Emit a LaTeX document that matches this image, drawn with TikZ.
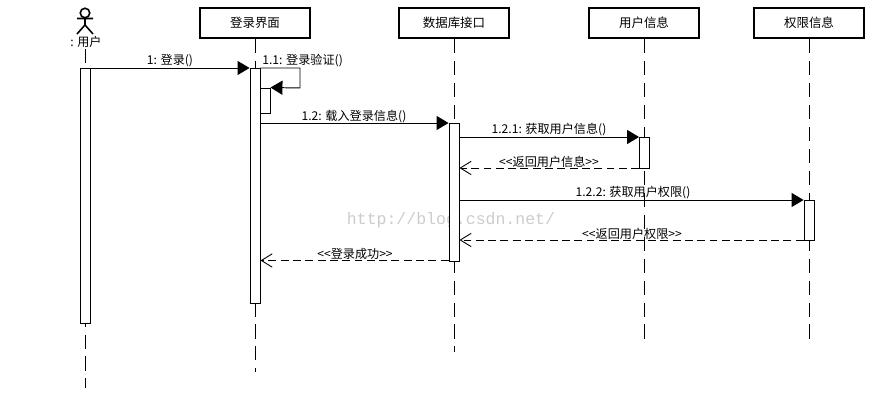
\documentclass[tikz,border=0pt]{standalone}
\usepackage{fontspec}
\setmainfont{Noto Sans CJK SC}
\newfontfamily\markfont{Liberation Mono}
\usetikzlibrary{arrows.meta}
\begin{document}
\begin{tikzpicture}[
        x=0.02cm, y=-0.02cm,
        object/.style={rectangle, draw, line width=1.1pt, minimum width=2.2cm, minimum height=0.6cm, align=center, font=\fontsize{7.1}{8}\selectfont},
        bar/.style={rectangle, draw, line width=0.55pt, fill=white, minimum width=0.2cm, inner sep=0pt},
        lifeline/.style={line width=0.55pt, dash pattern=on 8pt off 4.5pt},
        msg/.style={line width=0.55pt, -{Triangle[length=6.8pt, width=8pt]}},
        reply/.style={line width=0.55pt, dash pattern=on 4.5pt off 2.5pt, -{Straight Barb[length=6.2pt, width=7.6pt, line width=0.5pt]}},
        label/.style={font=\fontsize{6.9}{8}\selectfont, inner sep=0pt}
    ]
        \useasboundingbox (0,0) rectangle (885,418);

        % Watermark
        \node[font=\markfont\fontsize{9.4}{11}\selectfont, text=black!20, inner sep=0pt] (mark) at (451,220) {http://blog.csdn.net/};

        % Objects
        \node[object] (login) at (255,23) {登录界面};
        \node[object] (db) at (454,23) {数据库接口};
        \node[object] (info) at (644,23) {用户信息};
        \node[object] (perm) at (809,23) {权限信息};

        % Actor
        \node[draw, circle, line width=0.9pt, minimum size=0.19cm, inner sep=0pt] (head) at (85,13) {};
        \coordinate (hip) at (85,25);
        \coordinate (armL) at (77,18.5);
        \coordinate (armR) at (93,18.5);
        \coordinate (legL) at (77,34);
        \coordinate (legR) at (93,34);
        \draw[line width=0.9pt] (head) -- (hip) (armL) -- (armR) (legL) -- (hip) -- (legR);
        \node[label] (user) at (86,42) {: 用户};

        % Lifeline ends
        \coordinate (userEnd) at (85,388);
        \coordinate (loginEnd) at (255,372);
        \coordinate (dbEnd) at (454,352);
        \coordinate (infoEnd) at (644,340);
        \coordinate (permEnd) at (809,340);
        \coordinate (userTop) at (85,49);

        \draw[lifeline] (userTop) -- (userEnd);
        \draw[lifeline] (login) -- (loginEnd);
        \draw[lifeline] (db) -- (dbEnd);
        \draw[lifeline] (info) -- (infoEnd);
        \draw[lifeline] (perm) -- (permEnd);

        % Activation bars
        \node[bar, minimum height=5.12cm] (userbar) at (85,196) {};
        \node[bar, minimum height=4.72cm] (loginbar) at (255,186) {};
        \node[bar, minimum height=0.5cm] (selfbar) at (265,100.5) {};
        \node[bar, minimum height=2.76cm] (dbbar) at (454,192) {};
        \node[bar, minimum height=0.62cm] (infobar) at (644.5,152.5) {};
        \node[bar, minimum height=0.8cm] (permbar) at (809,220) {};

        % Levels of the messages
        \coordinate (y1) at (0,68);
        \coordinate (y11) at (300,68);
        \coordinate (y11b) at (300,88);
        \coordinate (y12) at (0,123);
        \coordinate (y121) at (0,137);
        \coordinate (y121r) at (0,168);
        \coordinate (y122) at (0,200);
        \coordinate (y122r) at (0,240);
        \coordinate (yok) at (0,260.5);

        % Messages
        \draw[msg] (userbar.east |- y1) -- (loginbar.west |- y1);
        \draw[msg] (loginbar.east |- y1) -- (y11) -- (y11b) -- (selfbar.north east);
        \draw[msg] (loginbar.east |- y12) -- (dbbar.west |- y12);
        \draw[msg] (dbbar.east |- y121) -- (infobar.west |- y121);
        \draw[reply] (infobar.west |- y121r) -- (dbbar.east |- y121r);
        \draw[msg] (dbbar.east |- y122) -- (permbar.west |- y122);
        \draw[reply] (permbar.west |- y122r) -- (dbbar.east |- y122r);
        \draw[reply] (dbbar.west |- yok) -- (loginbar.east |- yok);

        % Labels
        \node[label] (m1) at (170,61) {1: 登录()};
        \node[label, anchor=west] (m11) at (262,61) {1.1: 登录验证()};
        \node[label] (m12) at (354,117) {1.2: 载入登录信息()};
        \node[label] (m121) at (549,130) {1.2.1: 获取用户信息()};
        \node[label] (m121r) at (549,162) {<{}<返回用户信息>{}>};
        \node[label] (m122) at (633,193) {1.2.2: 获取用户权限()};
        \node[label] (m122r) at (632,233.5) {<{}<返回用户权限>{}>};
        \node[label] (mok) at (355,254) {<{}<登录成功>{}>};
    \end{tikzpicture}
\end{document}
